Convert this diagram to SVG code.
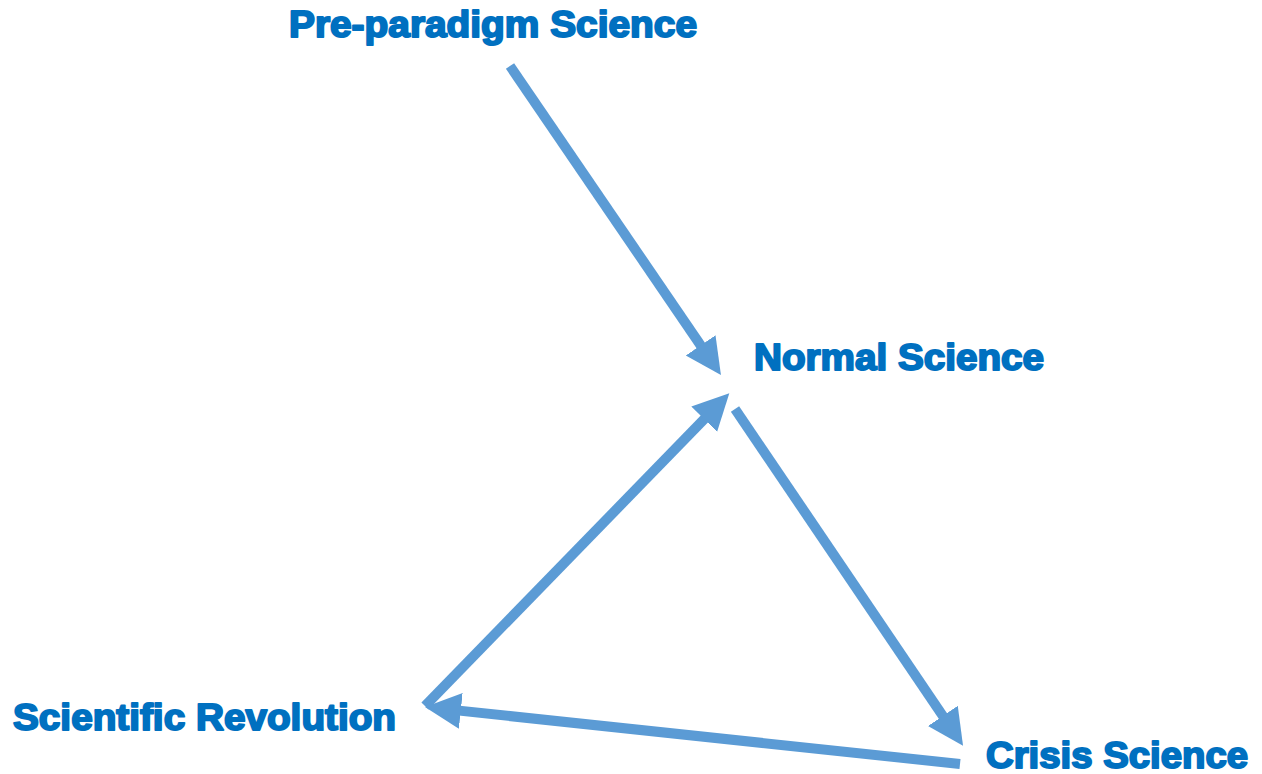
<svg xmlns="http://www.w3.org/2000/svg" width="1262" height="774" viewBox="0 0 1262 774">
  <style>
    .label { font-family: "Liberation Sans", Arial, sans-serif; font-size: 37px; font-weight: bold; fill: #0070C0; stroke: #0070C0; stroke-width: 2; stroke-linejoin: round; }
    .flow { stroke: #5B9BD5; stroke-width: 10; stroke-linecap: butt; fill: none; marker-end: url(#head); }
  </style>
  <defs>
    <marker id="head" markerUnits="userSpaceOnUse" markerWidth="40" markerHeight="40" refX="4" refY="18" orient="auto">
      <path d="M0,0 L36,18 L0,36 Z" fill="#5B9BD5"/>
    </marker>
  </defs>
  <rect width="1262" height="774" fill="#FFFFFF"/>

  <g id="connectors">
    <line class="flow" x1="510" y1="66" x2="702.9" y2="348.6"/>
    <line class="flow" x1="735" y1="409" x2="945.1" y2="719.2"/>
    <line class="flow" x1="960" y1="764" x2="456.8" y2="710.4"/>
    <line class="flow" x1="425" y1="706" x2="707" y2="416.3"/>
  </g>

  <g id="pre-paradigm">
    <text class="label" x="289" y="37" textLength="408" lengthAdjust="spacingAndGlyphs">Pre-paradigm Science</text>
  </g>
  <g id="normal">
    <text class="label" x="754" y="370" textLength="290" lengthAdjust="spacingAndGlyphs">Normal Science</text>
  </g>
  <g id="revolution">
    <text class="label" x="13" y="730" textLength="383" lengthAdjust="spacingAndGlyphs">Scientific Revolution</text>
  </g>
  <g id="crisis">
    <text class="label" x="986" y="768" textLength="262" lengthAdjust="spacingAndGlyphs">Crisis Science</text>
  </g>
</svg>
